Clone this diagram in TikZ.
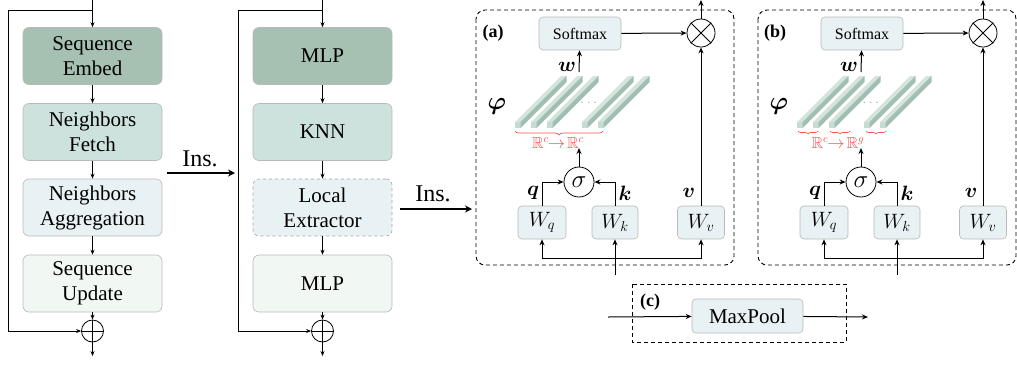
\documentclass[tikz,border=0pt]{standalone}
\usepackage{fontspec}
\setmainfont{Liberation Serif}
\usepackage{amsmath,amssymb}
\usetikzlibrary{arrows.meta,decorations.pathreplacing,calc}
\definecolor{cA}{RGB}{166,192,178}
\definecolor{cB}{RGB}{205,226,220}
\definecolor{cC}{RGB}{232,241,243}
\definecolor{cD}{RGB}{241,248,243}
\definecolor{bord}{RGB}{185,185,185}
\definecolor{brd}{RGB}{245,80,80}
\definecolor{barF}{RGB}{196,220,210}
\definecolor{barT}{RGB}{210,228,220}
\definecolor{barD}{RGB}{160,190,178}
\tikzset{
  blk/.style={draw=bord, line width=0.6pt, rounded corners=6pt, align=center,
    minimum width=139pt, minimum height=57pt, inner sep=0pt,
    font=\fontsize{21}{25}\selectfont},
  sm/.style={draw=bord, line width=0.6pt, rounded corners=4pt, fill=cC,
    inner sep=0pt, minimum height=33pt},
  arr/.style={-{Stealth[length=5pt,width=4pt]}, line width=0.7pt},
  arrb/.style={-{Stealth[length=6pt,width=5pt]}, line width=1pt},
  insarr/.style={-{Stealth[length=7pt,width=7pt]}, line width=2.6pt},
  op/.style={circle, draw, line width=0.8pt, inner sep=0pt, minimum size=22pt},
  dbox/.style={line width=0.9pt, dash pattern=on 4pt off 3pt, rounded corners=9pt},
  lab/.style={font=\fontsize{18}{20}\selectfont\bfseries},
  mfont/.style={font=\fontsize{20}{22}\selectfont},
  chanbar/.pic={
    \fill[barF] (0,-6) rectangle (5.5,0);
    \fill[barT] (0,-6) -- (5.5,-6) -- (51.5,-52) -- (46,-52) -- cycle;
    \fill[barD] (5.5,-6) -- (5.5,0) -- (51.5,-46) -- (51.5,-52) -- cycle;
  }
}
\newcommand{\attpanel}[4]{%
\begin{scope}[shift={(#1,0)}, name prefix=#2-]
  \draw[dbox] (476,10) rectangle (734,265);
  \node[lab] (lbl) at (493,33) {#3};
  \node[sm, minimum width=82pt, font=\fontsize{16}{18}\selectfont] (soft) at (580,33.5) {Softmax};
  \node[op, minimum size=28pt] (ot) at (701,33) {};
  \draw[line width=0.8pt] (ot.north west) -- (ot.south east) (ot.north east) -- (ot.south west);
  \coordinate (top) at (701,0);
  \draw[arrb] (soft) -- (ot);
  \draw[arrb] (ot) -- (top);
  \node[sm, minimum width=48pt, mfont] (wq) at (542,222.5) {$W_q$};
  \node[sm, minimum width=46pt, mfont] (wk) at (615,222.5) {$W_k$};
  \node[sm, minimum width=47pt, mfont] (wv) at (701,222.5) {$W_v$};
  \node[op, minimum size=30pt, font=\fontsize{23}{25}\selectfont] (sg) at (579,182) {$\sigma$};
  \draw[arrb] (wq.north) |- (sg.west);
  \draw[arrb] (wk.north) |- (sg.east);
  \draw[arrb] (wv) -- (ot);
  \coordinate (ph) at (579,148);
  \draw[arrb] (sg) -- (ph);
  \coordinate (wt) at (579,72);
  \draw[arrb] (wt) -- (soft);
  \node[mfont] (ql) at (533,193) {$\boldsymbol{q}$};
  \node[mfont] (kl) at (625,193) {$\boldsymbol{k}$};
  \node[mfont] (vl) at (689,193) {$\boldsymbol{v}$};
  \node[mfont] (wl) at (567,67) {$\boldsymbol{w}$};
  \node[font=\fontsize{25}{27}\selectfont] (phi) at (497,106) {$\boldsymbol{\varphi}$};
  \coordinate (in) at (615,275);
  \coordinate (jn) at (615,258);
  \draw[arrb] (in) -- (wk);
  \draw[arrb] (jn) -| (wq.south);
  \draw[arrb] (jn) -| (wv.south);
  \foreach \bx in {515,531,547,582,598} { \pic at (\bx,128) {chanbar}; }
  \node[text=barD, font=\fontsize{14}{16}\selectfont] (dots) at (590,103) {$\cdots$};
  #4
\end{scope}}
\begin{document}
\begin{tikzpicture}[x=1pt,y=-1pt]
\useasboundingbox (0,0) rectangle (1017,365);
% ---------- panel 1
\node[blk, fill=cA] (e1) at (92.5,56) {Sequence\\Embed};
\node[blk, fill=cB] (f1) at (92.5,132) {Neighbors\\Fetch};
\node[blk, fill=cC] (g1) at (92.5,207.5) {Neighbors\\Aggregation};
\node[blk, fill=cD] (u1) at (92.5,283.5) {Sequence\\Update};
\node[op] (p1) at (92.5,331) {};
\draw[line width=0.7pt] (p1.north) -- (p1.south) (p1.west) -- (p1.east);
\coordinate (i1) at (92.5,0);
\coordinate (s1) at (92.5,10);
\coordinate (o1) at (92.5,356);
\coordinate (c1) at (8,10);
\draw[arr] (i1) -- (e1);
\draw[arr] (e1) -- (f1);
\draw[arr] (f1) -- (g1);
\draw[arr] (g1) -- (u1);
\draw[arr] (u1) -- (p1);
\draw[arr] (p1) -- (o1);
\draw[arr] (s1) -- (c1) |- (p1.west);
% ---------- Ins 1
\coordinate (ia1) at (167,173);
\coordinate (ib1) at (235,173);
\draw[insarr] (ia1) -- (ib1);
\node[font=\fontsize{24}{26}\selectfont] (ins1) at (200,159) {Ins.};
% ---------- panel 2
\node[blk, fill=cA] (e2) at (322.5,56) {MLP};
\node[blk, fill=cB] (f2) at (322.5,132) {KNN};
\node[blk, fill=cC, dashed, draw=gray!70] (g2) at (322.5,207.5) {Local\\Extractor};
\node[blk, fill=cD] (u2) at (322.5,283.5) {MLP};
\node[op] (p2) at (322.5,331) {};
\draw[line width=0.7pt] (p2.north) -- (p2.south) (p2.west) -- (p2.east);
\coordinate (i2) at (322.5,0);
\coordinate (s2) at (322.5,10);
\coordinate (o2) at (322.5,356);
\coordinate (c2) at (238,10);
\draw[arr] (i2) -- (e2);
\draw[arr] (e2) -- (f2);
\draw[arr] (f2) -- (g2);
\draw[arr] (g2) -- (u2);
\draw[arr] (u2) -- (p2);
\draw[arr] (p2) -- (o2);
\draw[arr] (s2) -- (c2) |- (p2.west);
% ---------- Ins 2
\coordinate (ia2) at (400,209);
\coordinate (ib2) at (472,209);
\draw[insarr] (ia2) -- (ib2);
\node[font=\fontsize{24}{26}\selectfont] (ins2) at (433,194) {Ins.};
% ---------- panels a, b
\attpanel{0}{a}{(a)}{%
  \draw[brd, line width=0.7pt, decorate, decoration={brace, mirror, amplitude=4pt}] (515,131) -- (603,131);
  \node[text=brd, font=\fontsize{16}{18}\selectfont] (rl) at (558,143) {$\mathbb{R}^c\!\!\to\!\mathbb{R}^c$};
}
\attpanel{282}{b}{(b)}{%
  \draw[brd, line width=0.7pt, decorate, decoration={brace, mirror, amplitude=3pt}] (516,131) -- (536,131);
  \draw[brd, line width=0.7pt, decorate, decoration={brace, mirror, amplitude=3pt}] (548,131) -- (568,131);
  \draw[brd, line width=0.7pt, decorate, decoration={brace, mirror, amplitude=3pt}] (584,131) -- (604,131);
  \node[text=brd, font=\fontsize{16}{18}\selectfont] (rl) at (556,143) {$\mathbb{R}^c\!\!\to\!\mathbb{R}^g$};
}
% ---------- panel c
\draw[line width=0.9pt, dash pattern=on 4pt off 3pt] (632,284) rectangle (846,342);
\node[lab] (lc) at (650,302) {(c)};
\node[sm, minimum width=111pt, minimum height=34pt, font=\fontsize{21}{23}\selectfont] (mp) at (747.5,316) {MaxPool};
\coordinate (ci) at (608,317);
\coordinate (co) at (868,317);
\draw[arrb] (ci) -- (mp);
\draw[arrb] (mp) -- (co);
\end{tikzpicture}
\end{document}
